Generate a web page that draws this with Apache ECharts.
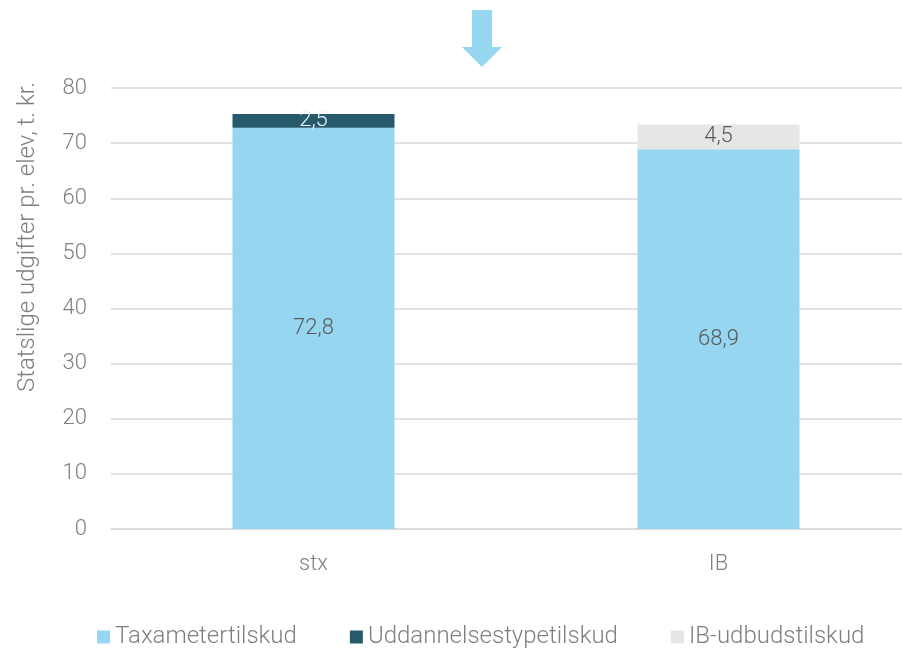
<!DOCTYPE html>
<html>
<head>
<meta charset="utf-8">
<script src="https://cdn.jsdelivr.net/npm/echarts@6/dist/echarts.min.js"></script>
<style>
  html,body{margin:0;padding:0;background:#fff;overflow:hidden}
  #chart{width:940px;height:649px}
</style>
</head>
<body>
<div id="chart"></div>
<script>
var categories = ['stx', 'IB']
var taxameter = [72.8, 68.9]
var uddannelse = [2.5, null]
var ibUdbud = [null, 4.5]
var yTicks = [0, 80, 10]

var FONT = 'Roboto'
var fmt = (p)=> String(p.value).replace('.', ',')

var chart = echarts.init(document.getElementById('chart'))

var label = (color)=>({
  show:true,
  position:'inside',
  color:color,
  fontFamily:FONT,
  fontWeight:300,
  fontSize:22,
  formatter:fmt
})

chart.setOption({
  animation:false,
  grid:{
    left:111,
    top:88,
    width:810,
    height:441
  },
  legend:{
    top:620,
    left:92,
    itemWidth:13,
    itemHeight:13,
    itemGap:53,
    icon:'rect',
    textStyle:{
      color:'#7f7f7f',
      fontFamily:FONT,
      fontWeight:300,
      fontSize:24
    },
    data:['Taxametertilskud','Uddannelsestypetilskud','IB-udbudstilskud']
  },
  xAxis:{
    type:'category',
    data:categories,
    axisLine:{lineStyle:{color:'#d9d9d9',width:1.5}},
    axisTick:{show:false},
    axisLabel:{
      color:'#7f7f7f',
      fontFamily:FONT,
      fontWeight:300,
      fontSize:22,
      margin:24
    }
  },
  yAxis:{
    type:'value',
    min:yTicks[0],
    max:yTicks[1],
    interval:yTicks[2],
    axisLine:{show:false},
    axisTick:{show:false},
    splitLine:{lineStyle:{color:'#d9d9d9',width:1.5}},
    axisLabel:{
      color:'#7f7f7f',
      fontFamily:FONT,
      fontWeight:300,
      fontSize:22,
      margin:24
    }
  },
  graphic:[{
    type:'text',
    x:28,
    y:237,
    rotation:Math.PI/2,
    style:{
      text:'Statslige udgifter pr. elev, t. kr.',
      fill:'#7f7f7f',
      font:'300 24px ' + FONT,
      align:'center',
      verticalAlign:'middle'
    }
  },{
    type:'polygon',
    shape:{
      points:[[472,10],[492,10],[492,47],[502,47],[482,67],[462,47],[472,47]]
    },
    style:{fill:'#97d6f0'}
  }],
  series:[{
    name:'Taxametertilskud',
    type:'bar',
    stack:'total',
    barWidth:162,
    itemStyle:{color:'#97d6f0'},
    label:label('#595959'),
    data:taxameter
  },{
    name:'Uddannelsestypetilskud',
    type:'bar',
    stack:'total',
    itemStyle:{color:'#26596b'},
    label:label('#eaf6fb'),
    data:uddannelse
  },{
    name:'IB-udbudstilskud',
    type:'bar',
    stack:'total',
    itemStyle:{color:'#e6e6e6'},
    label:label('#595959'),
    data:ibUdbud
  }]
})
</script>
</body>
</html>
